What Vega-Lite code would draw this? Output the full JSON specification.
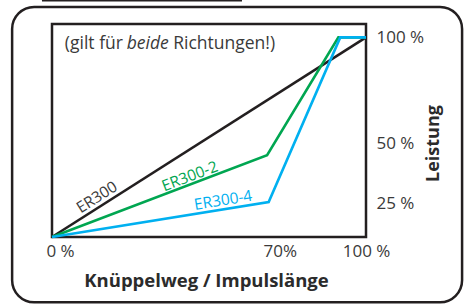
{
  "$schema": "https://vega.github.io/schema/vega-lite/v6.json",
  "width": 314,
  "height": 213,
  "autosize": "none",
  "padding": {"left": 52, "top": 24, "right": 98, "bottom": 67},
  "background": "white",
  "config": {
    "view": {"stroke": "#231f20", "strokeWidth": 2.5},
    "font": "Open Sans"
  },
  "data": {
    "values": [
      {"series": "ER300", "x": 0, "y": 0},
      {"series": "ER300", "x": 100, "y": 100},
      {"series": "ER300-2", "x": 0, "y": 0},
      {"series": "ER300-2", "x": 68.5, "y": 41},
      {"series": "ER300-2", "x": 91.2, "y": 100},
      {"series": "ER300-2", "x": 100, "y": 100},
      {"series": "ER300-4", "x": 0, "y": 0},
      {"series": "ER300-4", "x": 69, "y": 17.5},
      {"series": "ER300-4", "x": 91.8, "y": 100},
      {"series": "ER300-4", "x": 100, "y": 100}
    ]
  },
  "layer": [
    {
      "data": {"values": [{}]},
      "mark": {"type": "rect", "fillOpacity": 0, "stroke": "#231f20", "strokeWidth": 2.5, "cornerRadius": 22, "clip": false},
      "encoding": {
        "x": {"datum": -12.7, "type": "quantitative", "scale": {"domain": [0, 100], "nice": false}},
        "x2": {"datum": 130.6},
        "y": {"datum": 115.2, "type": "quantitative", "scale": {"domain": [0, 106.7], "nice": false}},
        "y2": {"datum": -32.7}
      }
    },
    {
      "data": {"values": [{}]},
      "mark": {"type": "rule", "stroke": "#231f20", "strokeWidth": 1.5, "clip": false},
      "encoding": {
        "x": {"datum": -3.2, "type": "quantitative", "scale": {"domain": [0, 100], "nice": false}},
        "x2": {"datum": 60.5},
        "y": {"datum": 118.3, "type": "quantitative", "scale": {"domain": [0, 106.7], "nice": false}}
      }
    },
    {
      "mark": {"type": "line", "strokeWidth": 2.6, "strokeJoin": "miter"},
      "encoding": {
        "x": {
          "field": "x", "type": "quantitative",
          "scale": {"domain": [0, 100], "nice": false},
          "axis": {
            "values": [0, 70, 100],
            "labelExpr": "datum.value == 0 ? '0 %' : datum.value == 70 ? '70%' : '100 %'",
            "ticks": false, "domain": false, "grid": false,
            "labelFontSize": 17, "labelColor": "#3a3a3a", "labelPadding": 6,
            "labelFlush": false, "labelOverlap": false,
            "labelOffset": {"condition": {"test": "datum.value < 90", "value": 8}, "value": 0},
            "title": "Knüppelweg / Impulslänge",
            "titleFontSize": 18.5, "titleFontWeight": "bold", "titleColor": "#2b2b2b",
            "titleX": 154, "titleY": 43, "titleBaseline": "middle", "titleAlign": "center"
          }
        },
        "y": {
          "field": "y", "type": "quantitative",
          "scale": {"domain": [0, 106.7], "nice": false},
          "axis": {
            "orient": "right",
            "values": [16.6, 46.7, 100],
            "labelExpr": "datum.value >= 99 ? '100 %' : datum.value > 30 ? '50 %' : '25 %'",
            "ticks": false, "domain": false, "grid": false,
            "labelFontSize": 17, "labelColor": "#3a3a3a", "labelPadding": 10,
            "labelOverlap": false, "labelFlush": false,
            "title": "Leistung",
            "titleFontSize": 18, "titleFontWeight": "bold", "titleColor": "#2b2b2b",
            "titleAngle": 270, "titleX": 67, "titleY": 119, "titleBaseline": "middle", "titleAlign": "center"
          }
        },
        "color": {
          "field": "series", "type": "nominal",
          "scale": {"domain": ["ER300", "ER300-2", "ER300-4"], "range": ["#231f20", "#00a651", "#00b0f0"]},
          "legend": null
        }
      }
    },
    {
      "data": {"values": [{}]},
      "mark": {"type": "text", "align": "left", "baseline": "middle", "fontSize": 17.5, "color": "#3a3a3a"},
      "encoding": {
        "x": {"datum": 4.1, "type": "quantitative", "scale": {"domain": [0, 100], "nice": false}},
        "y": {"datum": 96.6, "type": "quantitative", "scale": {"domain": [0, 106.7], "nice": false}},
        "text": {"value": "(gilt für"}
      }
    },
    {
      "data": {"values": [{}]},
      "mark": {"type": "text", "align": "left", "baseline": "middle", "fontSize": 17.5, "fontStyle": "italic", "color": "#3a3a3a"},
      "encoding": {
        "x": {"datum": 23.8, "type": "quantitative", "scale": {"domain": [0, 100], "nice": false}},
        "y": {"datum": 96.6, "type": "quantitative", "scale": {"domain": [0, 106.7], "nice": false}},
        "text": {"value": "beide"}
      }
    },
    {
      "data": {"values": [{}]},
      "mark": {"type": "text", "align": "left", "baseline": "middle", "fontSize": 17.5, "color": "#3a3a3a"},
      "encoding": {
        "x": {"datum": 38.6, "type": "quantitative", "scale": {"domain": [0, 100], "nice": false}},
        "y": {"datum": 96.6, "type": "quantitative", "scale": {"domain": [0, 106.7], "nice": false}},
        "text": {"value": "Richtungen!)"}
      }
    },
    {
      "data": {"values": [{}]},
      "mark": {"type": "text", "align": "center", "baseline": "middle", "fontSize": 15.5, "angle": 327.6, "color": "#3a3a3a"},
      "encoding": {
        "x": {"datum": 14.3, "type": "quantitative", "scale": {"domain": [0, 100], "nice": false}},
        "y": {"datum": 19.9, "type": "quantitative", "scale": {"domain": [0, 106.7], "nice": false}},
        "text": {"value": "ER300"}
      }
    },
    {
      "data": {"values": [{}]},
      "mark": {"type": "text", "align": "center", "baseline": "middle", "fontSize": 15.5, "angle": 339.2, "color": "#00a651"},
      "encoding": {
        "x": {"datum": 43.9, "type": "quantitative", "scale": {"domain": [0, 100], "nice": false}},
        "y": {"datum": 30.4, "type": "quantitative", "scale": {"domain": [0, 106.7], "nice": false}},
        "text": {"value": "ER300-2"}
      }
    },
    {
      "data": {"values": [{}]},
      "mark": {"type": "text", "align": "center", "baseline": "middle", "fontSize": 15.5, "angle": 350.8, "color": "#00b0f0"},
      "encoding": {
        "x": {"datum": 54.5, "type": "quantitative", "scale": {"domain": [0, 100], "nice": false}},
        "y": {"datum": 18.4, "type": "quantitative", "scale": {"domain": [0, 106.7], "nice": false}},
        "text": {"value": "ER300-4"}
      }
    }
  ]
}
